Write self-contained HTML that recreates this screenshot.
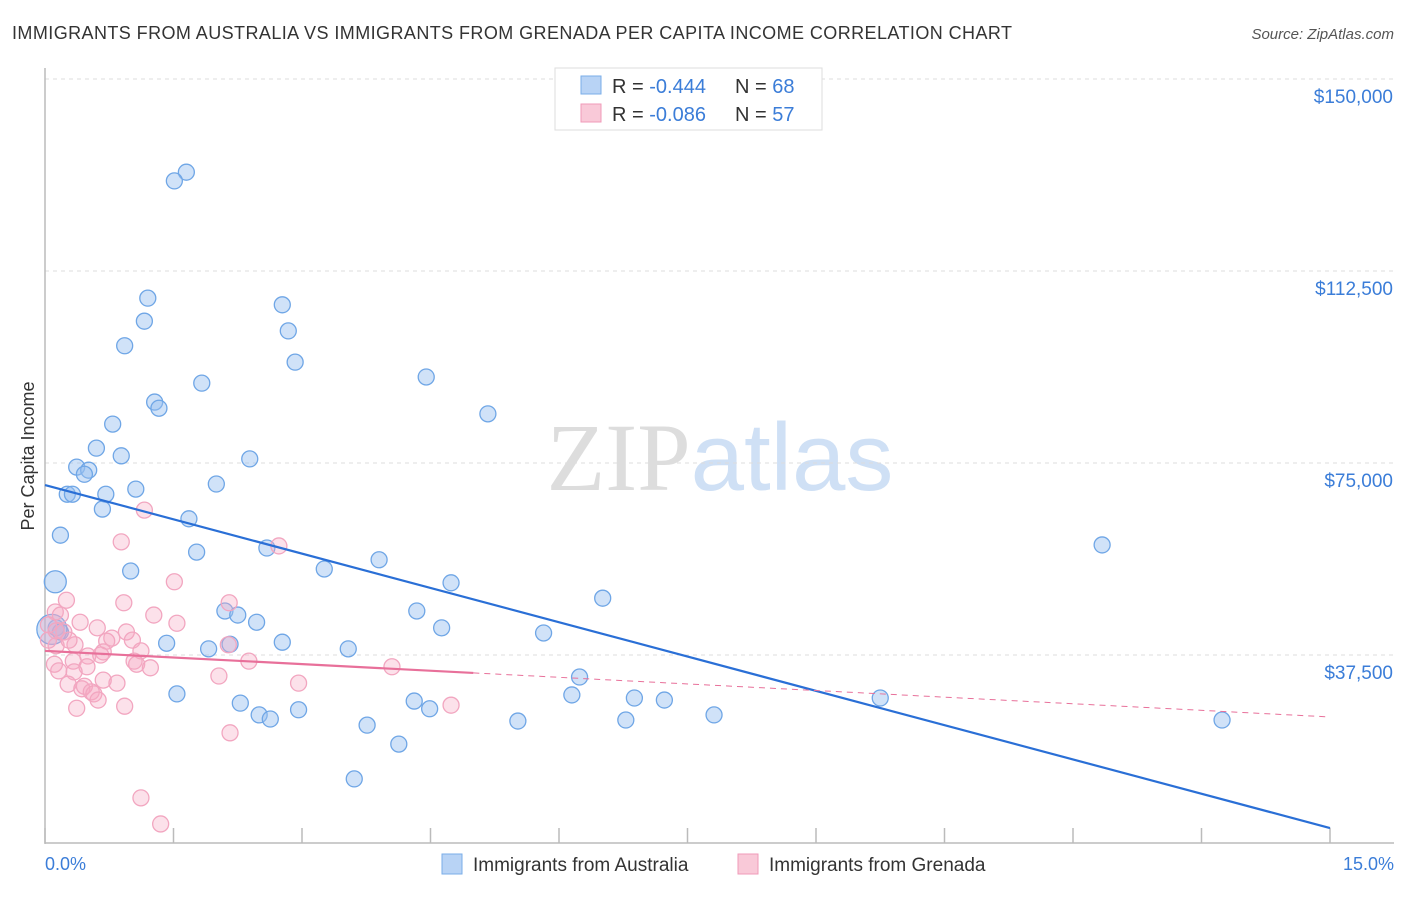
<!DOCTYPE html>
<html><head><meta charset="utf-8"><style>
body{margin:0;background:#fff;font-family:"Liberation Sans",sans-serif;}
svg text{font-family:"Liberation Sans",sans-serif;}
</style></head><body>
<svg id="chart" width="1406" height="892" xmlns="http://www.w3.org/2000/svg">
<text x="12" y="39" font-size="18" fill="#333" textLength="1000" lengthAdjust="spacing">IMMIGRANTS FROM AUSTRALIA VS IMMIGRANTS FROM GRENADA PER CAPITA INCOME CORRELATION CHART</text>
<text x="1394" y="39" font-size="15" fill="#555" text-anchor="end" font-style="italic">Source: ZipAtlas.com</text>
<text x="720" y="490" font-size="96" text-anchor="middle"><tspan fill="#ddd" font-family="Liberation Serif">ZIP</tspan><tspan fill="#cfe0f5">atlas</tspan></text>
<g id="grid"></g><g id="axes"></g><g id="marks"></g>
<text transform="translate(34,456) rotate(-90)" font-size="18" fill="#333" text-anchor="middle">Per Capita Income</text>
<text x="45" y="870" font-size="18" fill="#3b7dd8">0.0%</text>
<text x="1394" y="870" font-size="18" fill="#3b7dd8" text-anchor="end">15.0%</text>
<g>
<rect x="555" y="68" width="267" height="62" fill="#fff" stroke="#ddd"/>
<rect x="581" y="76" width="20" height="18" fill="#b8d3f5" stroke="#7aaee8"/>
<rect x="581" y="104" width="20" height="18" fill="#f9c9d8" stroke="#f09ab8"/>
<text x="612" y="93" font-size="20" fill="#333">R = <tspan fill="#3b7dd8">-0.444</tspan></text>
<text x="735" y="93" font-size="20" fill="#333">N = <tspan fill="#3b7dd8">68</tspan></text>
<text x="612" y="121" font-size="20" fill="#333">R = <tspan fill="#3b7dd8">-0.086</tspan></text>
<text x="735" y="121" font-size="20" fill="#333">N = <tspan fill="#3b7dd8">57</tspan></text>
</g>
<g>
<rect x="442" y="854" width="20" height="20" fill="#b8d3f5" stroke="#7aaee8"/>
<text x="473" y="871" font-size="19" fill="#333">Immigrants from Australia</text>
<rect x="738" y="854" width="20" height="20" fill="#f9c9d8" stroke="#f09ab8"/>
<text x="769" y="871" font-size="19" fill="#333">Immigrants from Grenada</text>
</g>
</svg>
<script>
const yTicks=[37500,75000,112500,150000];
const yTickLabels=["$37,500","$75,000","$112,500","$150,000"];
const xTicks=[0,1.5,3,4.5,6,7.5,9,10.5,12,13.5,15];
const ausX=[1.65,1.51,1.20,1.16,0.93,2.77,2.84,2.92,1.83,4.45,5.17,1.28,1.33,0.79,0.60,0.89,0.37,0.51,0.46,2.39,2.00,1.06,0.26,0.32,0.71,0.67,1.68,0.18,2.59,12.34,1.77,3.90,1.00,3.26,0.12,4.74,6.51,4.34,2.10,2.25,2.47,4.63,5.82,0.13,0.18,1.42,2.16,2.77,1.91,3.54,6.24,1.54,6.15,6.88,7.23,9.75,2.28,4.31,4.49,2.96,2.50,2.63,5.52,6.78,7.81,13.74,3.76,4.13,3.61,0.08];
const ausY=[131.8,130.1,107.2,102.7,97.9,105.9,100.8,94.7,90.6,91.8,84.6,86.9,85.7,82.6,77.9,76.4,74.2,73.6,72.8,75.8,70.9,69.9,68.9,68.9,68.9,66.0,64.1,60.9,58.4,59.0,57.6,56.1,53.9,54.3,51.8,51.6,48.6,46.1,46.1,45.3,43.9,42.8,41.8,42.8,42.0,39.8,39.6,40.0,38.7,38.7,33.2,29.9,29.7,29.1,28.7,29.1,28.1,28.5,27.0,26.8,25.8,25.0,24.6,24.8,25.8,24.8,23.8,20.1,13.3,42.5];
const ausR=[8,8,8,8,8,8,8,8,8,8,8,8,8,8,8,8,8,8,8,8,8,8,8,8,8,8,8,8,8,8,8,8,8,8,11,8,8,8,8,8,8,8,8,8,8,8,8,8,8,8,8,8,8,8,8,8,8,8,8,8,8,8,8,8,8,8,8,8,8,15];
const grnX=[1.16,0.89,2.73,1.51,0.25,0.12,0.18,0.92,1.27,2.15,1.54,0.04,0.41,0.22,0.61,0.95,0.78,0.72,1.02,0.13,0.35,1.12,0.68,0.65,0.50,2.14,2.38,1.04,1.07,1.23,0.11,0.33,0.49,4.05,0.16,0.34,2.03,2.96,0.84,0.68,0.27,0.43,0.46,0.54,0.57,0.62,0.93,0.37,4.74,2.16,1.12,1.35,0.04,0.13,0.28];
const grnY=[65.8,59.6,58.8,51.8,48.2,45.9,45.3,47.7,45.3,47.7,43.7,43.4,43.9,42.0,42.8,42.0,40.8,40.2,40.4,39.3,39.5,38.3,38.1,37.5,37.3,39.5,36.3,36.3,35.7,35.0,35.7,36.3,35.2,35.2,34.4,34.2,33.4,32.0,32.0,32.6,31.8,30.9,31.4,30.3,29.9,28.7,27.5,27.1,27.7,22.3,9.6,4.5,40.4,42.2,40.4];
const ausTrend=[70.7,3.7];
const grnTrend=[38.3,25.4];
const grnSolidEnd=5.0;
const X=v=>45+v*1285/15, Y=v=>847-v*192/37500;
const NS="http://www.w3.org/2000/svg";
function mk(p,t,a){const e=document.createElementNS(NS,t);for(const k in a)e.setAttribute(k,a[k]);p.appendChild(e);return e;}
const grid=document.getElementById('grid'),axes=document.getElementById('axes'),marks=document.getElementById('marks');
yTicks.forEach((v,i)=>{
 const l=mk(grid,'line',{x1:45,x2:1394,y1:Y(v),y2:Y(v),stroke:'#ddd','stroke-dasharray':'4,4'});
 
 
 const t=mk(axes,'text',{x:1393,y:Y(v)+24,'font-size':19,fill:'#3b7dd8','text-anchor':'end'});
 t.textContent=yTickLabels[i];
 
 
});
const ax=mk(axes,'line',{x1:45,x2:45,y1:68,y2:844,stroke:'#bbb','stroke-width':1.5});


const bx=mk(axes,'line',{x1:45,x2:1394,y1:843,y2:843,stroke:'#bbb','stroke-width':1.5});


xTicks.forEach(v=>{
 const t=mk(axes,'line',{x1:X(v),x2:X(v),y1:828,y2:843,stroke:'#bbb','stroke-width':1.5});
 
 
});
ausX.forEach((x,i)=>{
 const c=mk(marks,'circle',{cx:X(x),cy:Y(ausY[i]*1000),r:ausR[i],fill:'rgba(150,190,240,0.45)',stroke:'#6fa6e6','stroke-width':1.3});
 
 
});
grnX.forEach((x,i)=>{
 const c=mk(marks,'circle',{cx:X(x),cy:Y(grnY[i]*1000),r:8,fill:'rgba(245,170,195,0.35)',stroke:'#f2a6c0','stroke-width':1.3});
 
 
});
const gy=x=>grnTrend[0]+(grnTrend[1]-grnTrend[0])*x/15;
const l1=mk(marks,'line',{x1:X(0),y1:Y(ausTrend[0]*1000),x2:X(15),y2:Y(ausTrend[1]*1000),stroke:'#2a6fd6','stroke-width':2.2});


const l2=mk(marks,'line',{x1:X(0),y1:Y(gy(0)*1000),x2:X(grnSolidEnd),y2:Y(gy(grnSolidEnd)*1000),stroke:'#e8709a','stroke-width':2.2});


const l3=mk(marks,'line',{x1:X(grnSolidEnd),y1:Y(gy(grnSolidEnd)*1000),x2:X(15),y2:Y(gy(15)*1000),stroke:'#e8709a','stroke-width':1,'stroke-dasharray':'6,5'});


</script>
</body></html>
